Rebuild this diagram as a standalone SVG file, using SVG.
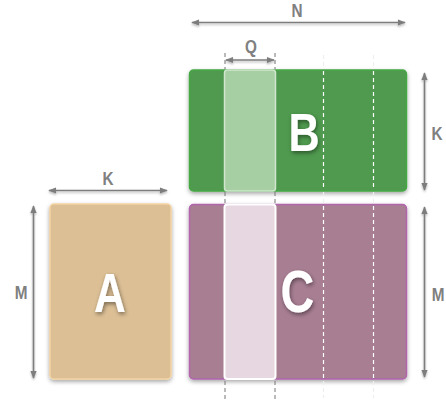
<svg xmlns="http://www.w3.org/2000/svg" width="446" height="405" viewBox="0 0 446 405">
  <defs>
    <filter id="boxShadow" x="-10%" y="-10%" width="120%" height="125%">
      <feDropShadow dx="0" dy="2" stdDeviation="2" flood-color="#000" flood-opacity="0.35"/>
    </filter>
    <filter id="lineShadow" filterUnits="userSpaceOnUse" x="0" y="0" width="446" height="405">
      <feDropShadow dx="0" dy="1.5" stdDeviation="1.2" flood-color="#000" flood-opacity="0.3"/>
    </filter>
    <filter id="letterShadow" x="-30%" y="-30%" width="160%" height="160%">
      <feDropShadow dx="1" dy="2" stdDeviation="2" flood-color="#000" flood-opacity="0.45"/>
    </filter>
    <marker id="head" viewBox="0 0 10 10" refX="9" refY="5" markerWidth="5" markerHeight="5" orient="auto-start-reverse" markerUnits="strokeWidth">
      <path d="M0,1 L10,5 L0,9 Z" fill="#7d7d7d"/>
    </marker>
  </defs>
  <style>
    .dim { stroke: #7d7d7d; stroke-width: 1.6; fill: none; marker-start: url(#head); marker-end: url(#head); }
    .lbl { font-family: "Liberation Sans", "DejaVu Sans", sans-serif; font-weight: bold; font-size: 18px; fill: #808080; text-anchor: middle; }
    .big { font-family: "Liberation Sans", "DejaVu Sans", sans-serif; font-weight: bold; fill: #ffffff; text-anchor: middle; }
    .guide { stroke: #777; stroke-width: 1; stroke-dasharray: 4 3; fill: none; }
    .guideW { stroke: #ffffff; stroke-width: 1.2; stroke-dasharray: 4 3; fill: none; }
    .guideF { stroke: #eeeeee; stroke-width: 1.2; stroke-dasharray: 4 3; fill: none; }
  </style>

  <!-- matrix A -->
  <g id="A">
    <rect x="50" y="204" width="121" height="175" rx="4" fill="#dcbf95" stroke="#f3d3a3" stroke-width="1.5" filter="url(#boxShadow)"/>
    <g filter="url(#letterShadow)">
      <text class="big" transform="translate(110 311.5) scale(0.8 1)" font-size="55">A</text>
    </g>
  </g>

  <!-- matrix B with highlighted column -->
  <g id="B">
    <rect x="189.5" y="70" width="217" height="121" rx="4" fill="#4f9a4f" stroke="#45a845" stroke-width="1.5" filter="url(#boxShadow)"/>
    <rect x="224.5" y="70" width="51" height="121" rx="3" fill="#a7cfa4" stroke="#cfe6cd" stroke-width="1.5"/>
    <line class="guideW" x1="323.5" y1="71" x2="323.5" y2="190"/>
    <line class="guideW" x1="373.5" y1="71" x2="373.5" y2="190"/>
    <g filter="url(#letterShadow)">
      <text class="big" transform="translate(304 150.5) scale(0.8 1)" font-size="54">B</text>
    </g>
  </g>

  <!-- matrix C with highlighted column -->
  <g id="C">
    <rect x="189.5" y="204.5" width="217" height="174.5" rx="4" fill="#a87e93" stroke="#b065ad" stroke-width="1.5" filter="url(#boxShadow)"/>
    <rect x="224.5" y="204.5" width="51" height="174.5" rx="3" fill="#e6d7e0" stroke="#ffffff" stroke-width="2"/>
    <line class="guideW" x1="323.5" y1="206" x2="323.5" y2="378"/>
    <line class="guideW" x1="373.5" y1="206" x2="373.5" y2="378"/>
    <g filter="url(#letterShadow)">
      <text class="big" transform="translate(297.5 311.5) scale(0.78 1)" font-size="60">C</text>
    </g>
  </g>

  <!-- dimension arrows, guides and labels -->
  <g id="connectors">
    <line class="guide" x1="225" y1="53" x2="225" y2="69"/>
    <line class="guide" x1="275" y1="53" x2="275" y2="69"/>
    <line class="guide" x1="225" y1="192" x2="225" y2="204"/>
    <line class="guide" x1="275" y1="192" x2="275" y2="204"/>
    <line class="guide" x1="225" y1="381" x2="225" y2="400"/>
    <line class="guide" x1="275" y1="381" x2="275" y2="400"/>
    <line class="guideF" x1="323.5" y1="55" x2="323.5" y2="69"/>
    <line class="guideF" x1="373.5" y1="55" x2="373.5" y2="69"/>
    <line class="guideF" x1="323.5" y1="192" x2="323.5" y2="204"/>
    <line class="guideF" x1="373.5" y1="192" x2="373.5" y2="204"/>
    <line class="guideF" x1="323.5" y1="381" x2="323.5" y2="398"/>
    <line class="guideF" x1="373.5" y1="381" x2="373.5" y2="398"/>

    <g filter="url(#lineShadow)">
      <line class="dim" x1="192" y1="22.5" x2="405" y2="22.5"/>
      <line class="dim" x1="226" y1="60" x2="274" y2="60"/>
      <line class="dim" x1="49" y1="190.5" x2="167" y2="190.5"/>
      <line class="dim" x1="33.5" y1="206" x2="33.5" y2="378"/>
      <line class="dim" x1="424.5" y1="73" x2="424.5" y2="190"/>
      <line class="dim" x1="424.5" y1="207" x2="424.5" y2="377"/>
    </g>

    <text class="lbl" transform="translate(297 17) scale(0.85 1)">N</text>
    <text class="lbl" transform="translate(251 53) scale(0.85 1)">Q</text>
    <text class="lbl" transform="translate(108 185) scale(0.85 1)">K</text>
    <text class="lbl" transform="translate(437 140) scale(0.85 1)">K</text>
    <text class="lbl" transform="translate(21 299) scale(0.85 1)">M</text>
    <text class="lbl" transform="translate(438 301) scale(0.85 1)">M</text>
  </g>
</svg>
